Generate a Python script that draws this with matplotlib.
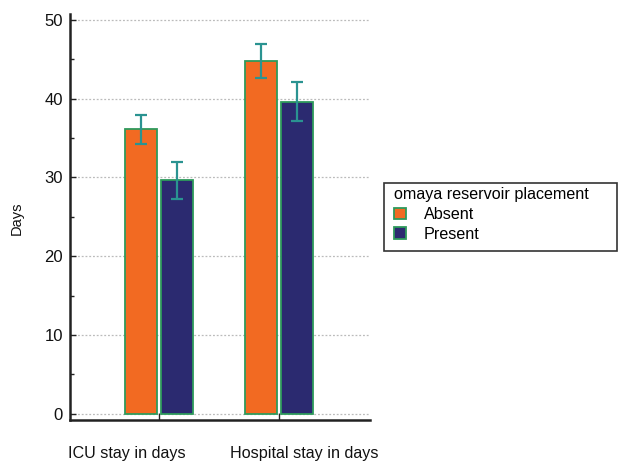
import matplotlib.pyplot as plt
import numpy as np
from matplotlib.patches import Patch, Rectangle

plt.rcParams['font.family'] = ['Liberation Sans', 'DejaVu Sans']

categories = ["ICU stay in days", "Hospital stay in days"]
groups = ["Absent", "Present"]
means = {"Absent": [36.2, 44.8], "Present": [29.7, 39.6]}
err_low = {"Absent": [34.3, 42.6], "Present": [27.3, 37.2]}
err_high = {"Absent": [37.9, 47.0], "Present": [32.0, 42.1]}
yticks = [0, 10, 20, 30, 40, 50]

colors = {"Absent": "#F26A22", "Present": "#2B2A70"}
edge = "#2E9A5C"
err_color = "#2A9391"


def main():
    fig = plt.figure(figsize=(6.18, 4.62), dpi=100)
    W, H = 618, 462
    ax = fig.add_axes([70 / W, 1 - 420 / H, 300 / W, (420 - 13.7) / H])

    x = np.arange(len(categories))
    width = 0.265
    offsets = {"Absent": -0.5 * width - 0.017, "Present": 0.5 * width + 0.017}
    for g in groups:
        pos = x + offsets[g]
        vals = np.array(means[g])
        lo = vals - np.array(err_low[g])
        hi = np.array(err_high[g]) - vals
        ax.bar(pos, vals, width, color=colors[g], edgecolor=edge,
               linewidth=1.3, zorder=3)
        ax.errorbar(pos, vals, yerr=[lo, hi], fmt="none", ecolor=err_color,
                    elinewidth=1.6, capsize=4.2, capthick=1.6, zorder=4)

    ax.set_xlim(-0.742, 1.758)
    ax.set_ylim(-0.8, 50.8)
    ax.set_yticks(yticks)
    ax.set_yticks(np.arange(5, 50, 10), minor=True)
    ax.set_xticks(x)
    ax.set_xticklabels([])
    ax.grid(axis="y", color="#bbbbbb", linestyle=(0, (1.5, 1.5)),
            linewidth=0.9, zorder=0)
    ax.tick_params(axis="y", which="major", direction="in", length=4,
                   width=1, labelsize=12, pad=5, colors="#222222",
                   labelcolor="#111111")
    ax.tick_params(axis="y", which="minor", direction="in", length=3,
                   width=1, colors="#222222")
    ax.tick_params(axis="x", direction="in", length=5, width=1,
                   colors="#222222")
    for s in ["top", "right"]:
        ax.spines[s].set_visible(False)
    for s in ["left", "bottom"]:
        ax.spines[s].set_linewidth(1.8)
        ax.spines[s].set_color("#222222")

    fig.text(17 / W, 1 - 218 / H, "Days", rotation=90, ha="center",
             va="center", fontsize=10.5, color="#111111")
    fig.text(68 / W, 1 - 446 / H, categories[0], ha="left", va="top",
             fontsize=11.6, color="#111111")
    fig.text(230 / W, 1 - 446 / H, categories[1], ha="left", va="top",
             fontsize=11.6, color="#111111")

    # legend box
    fig.patches.append(Rectangle((384 / W, 1 - 251 / H), 233 / W, 68 / H,
                                 transform=fig.transFigure, fill=False,
                                 edgecolor="#333333", linewidth=1.2))
    handles = [Patch(facecolor=colors[g], edgecolor=edge, linewidth=1.3,
                     label=g) for g in groups]
    fig.legend(handles=handles, title="omaya reservoir placement",
               loc="upper left", bbox_to_anchor=(391 / W, 1 - 184 / H),
               frameon=False, fontsize=11.6, title_fontsize=11.6,
               alignment="left", handlelength=0.75, handleheight=0.75,
               handletextpad=1.1, labelspacing=0.3, borderpad=0.2,
               borderaxespad=0)
    fig.savefig("out.png", dpi=100)


if __name__ == "__main__":
    main()
